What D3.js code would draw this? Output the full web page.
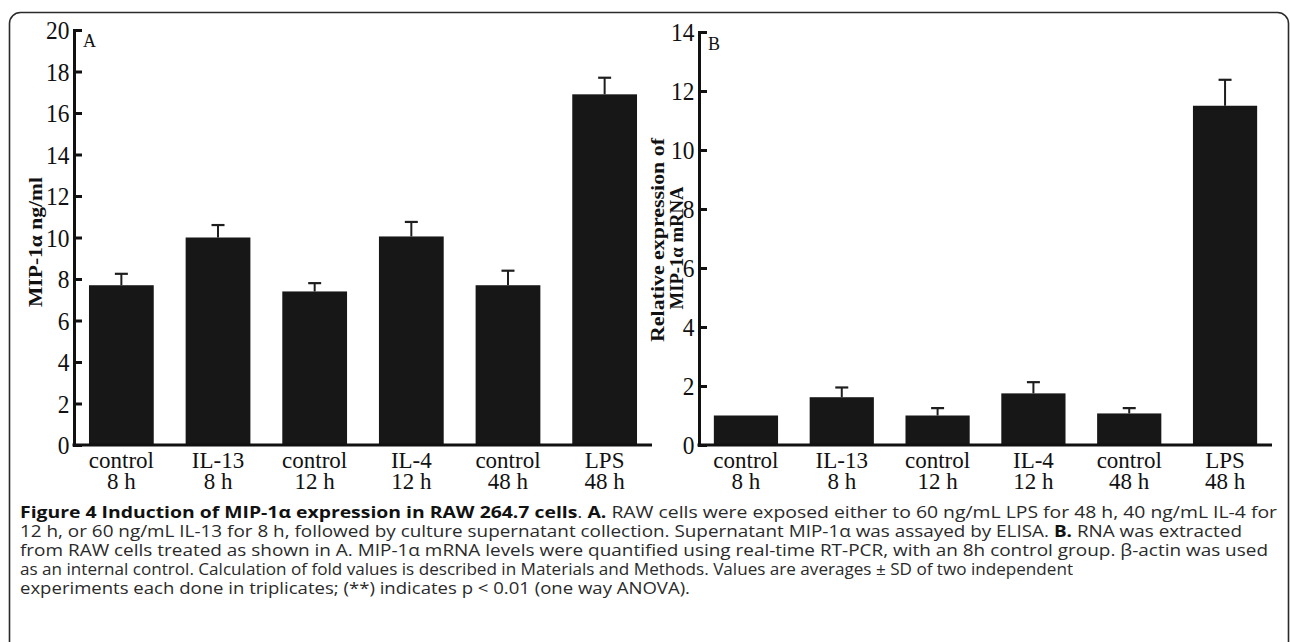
<!DOCTYPE html>
<html>
<head>
<meta charset="utf-8">
<script src="https://cdn.jsdelivr.net/npm/d3@7"></script>
<style>
  body { margin: 0; background: #fff; }
  svg { display: block; }
</style>
</head>
<body>
<div class="chart"></div>
<script>
// categories (two-line labels)
const catTop = ['control', 'IL-13', 'control', 'IL-4', 'control', 'LPS'];
const catBottom = ['8 h', '8 h', '12 h', '12 h', '48 h', '48 h'];

// panel A: MIP-1a protein (ng/ml)
const mipValues = [7.7, 10.0, 7.4, 10.05, 7.7, 16.9];
const mipErrors = [0.55, 0.6, 0.4, 0.7, 0.7, 0.8];
const ticksA = [0, 2, 4, 6, 8, 10, 12, 14, 16, 18, 20];

// panel B: relative MIP-1a mRNA
const mrnaValues = [1.0, 1.62, 1.0, 1.75, 1.07, 11.5];
const mrnaErrors = [0, 0.33, 0.25, 0.38, 0.18, 0.88];
const ticksB = [0, 2, 4, 6, 8, 10, 12, 14];

// caption lines, segments as [text, bold]
const captionLines = [
  [['Figure 4 Induction of MIP-1α expression in RAW 264.7 cells', true], ['. ', false], ['A.', true],
   [' RAW cells were exposed either to 60 ng/mL LPS for 48 h, 40 ng/mL IL-4 for', false]],
  [['12 h, or 60 ng/mL IL-13 for 8 h, followed by culture supernatant collection. Supernatant MIP-1α was assayed by ELISA. ', false],
   ['B.', true], [' RNA was extracted', false]],
  [['from RAW cells treated as shown in A. MIP-1α mRNA levels were quantified using real-time RT-PCR, with an 8h control group. β-actin was used', false]],
  [['as an internal control. Calculation of fold values is described in Materials and Methods. Values are averages ± SD of two independent', false]],
  [['experiments each done in triplicates; (**) indicates p < 0.01 (one way ANOVA).', false]]
];
const captionWidths = [1257, 1222, 1248, 1053, 670];

const width = 1290;
const height = 642;
const baseY = 445;
const serif = "'Liberation Serif', 'Times New Roman', serif";

const svg = d3.select('.chart')
  .append('svg')
    .attr('width', width)
    .attr('height', height);

// outer frame
svg.append('rect')
  .attr('x', 9.5)
  .attr('y', 12.5)
  .attr('width', 1279)
  .attr('height', 700)
  .attr('rx', 11)
  .attr('fill', 'none')
  .attr('stroke', '#2a2a2a')
  .attr('stroke-width', 1.6);

function drawPanel(p) {
  const g = svg.append('g');

  const xScale = d3.scaleBand()
    .domain(d3.range(catTop.length))
    .range([p.left, p.right])
    .paddingInner(0.33)
    .paddingOuter(0.155);

  const yScale = d3.scaleLinear()
    .domain([0, p.max])
    .range([baseY, p.top]);

  // bars
  g.selectAll('.bar')
    .data(p.values)
    .enter()
    .append('rect')
      .attr('class', 'bar')
      .attr('x', (d, i) => xScale(i))
      .attr('y', d => yScale(d))
      .attr('width', xScale.bandwidth())
      .attr('height', d => baseY - yScale(d))
      .attr('fill', '#171718');

  // error bars (upper only)
  const errs = p.values.map((v, i) => ({ i, v, e: p.errors[i] })).filter(d => d.e > 0);
  const cx = d => xScale(d.i) + xScale.bandwidth() / 2;
  g.selectAll('.err')
    .data(errs)
    .enter()
    .append('line')
      .attr('x1', cx).attr('x2', cx)
      .attr('y1', d => yScale(d.v))
      .attr('y2', d => yScale(d.v + d.e))
      .attr('stroke', '#1e1e1e')
      .attr('stroke-width', 2);
  g.selectAll('.cap')
    .data(errs)
    .enter()
    .append('line')
      .attr('x1', d => cx(d) - 6.5).attr('x2', d => cx(d) + 6.5)
      .attr('y1', d => yScale(d.v + d.e))
      .attr('y2', d => yScale(d.v + d.e))
      .attr('stroke', '#1e1e1e')
      .attr('stroke-width', 2.2);

  // y axis with inward ticks
  const yAxis = g.append('g')
    .attr('transform', `translate(${p.left}, 0)`)
    .call(d3.axisLeft(yScale)
      .tickValues(p.ticks)
      .tickSizeInner(-8)
      .tickSizeOuter(-8)
      .tickPadding(5)
      .tickFormat(d3.format('d')));
  yAxis.select('.domain').attr('stroke', '#111').attr('stroke-width', 3);
  yAxis.selectAll('.tick line').attr('stroke', '#111').attr('stroke-width', 3);
  yAxis.selectAll('.tick text')
    .attr('font-family', serif)
    .attr('font-size', 26)
    .attr('fill', '#111')
    .attr('dy', '0.34em')
    .attr('transform', 'scale(0.9,1)');

  // x baseline
  g.append('line')
    .attr('x1', p.left - 1.5)
    .attr('x2', p.right)
    .attr('y1', baseY)
    .attr('y2', baseY)
    .attr('stroke', '#111')
    .attr('stroke-width', 3);

  // category labels
  const lab = g.selectAll('.cat')
    .data(catTop)
    .enter()
    .append('text')
      .attr('class', 'cat')
      .attr('text-anchor', 'middle')
      .attr('font-family', serif)
      .attr('font-size', 23)
      .attr('fill', '#111');
  lab.append('tspan')
    .attr('x', (d, i) => xScale(i) + xScale.bandwidth() / 2)
    .attr('y', 468)
    .text(d => d);
  lab.append('tspan')
    .attr('x', (d, i) => xScale(i) + xScale.bandwidth() / 2)
    .attr('y', 489)
    .text((d, i) => catBottom[i]);

  // panel letter
  g.append('text')
    .attr('x', p.letterX)
    .attr('y', p.letterY)
    .attr('font-family', serif)
    .attr('font-size', 18)
    .attr('fill', '#111')
    .text(p.letter);

  // y title
  p.titles.forEach(t => {
    g.append('text')
      .attr('transform', `translate(${t.x}, ${t.y}) rotate(-90)`)
      .attr('text-anchor', 'middle')
      .attr('font-family', serif)
      .attr('font-weight', 'bold')
      .attr('font-size', 19)
      .attr('fill', '#111')
      .attr('textLength', t.len)
      .attr('lengthAdjust', 'spacingAndGlyphs')
      .text(t.text);
  });
}

drawPanel({
  left: 74, right: 652, top: 30, max: 20,
  values: mipValues, errors: mipErrors, ticks: ticksA,
  letter: 'A', letterX: 83, letterY: 47,
  titles: [{ text: 'MIP-1α ng/ml', x: 42, y: 242, len: 130 }]
});

drawPanel({
  left: 699, right: 1272, top: 32, max: 14,
  values: mrnaValues, errors: mrnaErrors, ticks: ticksB,
  letter: 'B', letterX: 708, letterY: 50,
  titles: [
    { text: 'Relative expression of', x: 664, y: 240, len: 204 },
    { text: 'MIP-1α mRNA', x: 683, y: 248, len: 123 }
  ]
});

// caption, each line stretched to the reference line length
const cap = svg.append('g')
  .attr('font-family', "'Open Sans', 'Noto Sans', sans-serif");
captionLines.forEach((segs, li) => {
  const t = cap.append('text')
    .attr('x', 20)
    .attr('y', 518 + li * 19)
    .attr('font-size', 15.5)
    .attr('fill', '#2a2a2a')
    .attr('textLength', captionWidths[li])
    .attr('lengthAdjust', 'spacingAndGlyphs')
    .style('white-space', 'pre');
  segs.forEach(s => {
    t.append('tspan')
      .attr('font-weight', s[1] ? 'bold' : 'normal')
      .attr('fill', s[1] ? '#111' : '#2a2a2a')
      .text(s[0]);
  });
});
</script>
</body>
</html>
